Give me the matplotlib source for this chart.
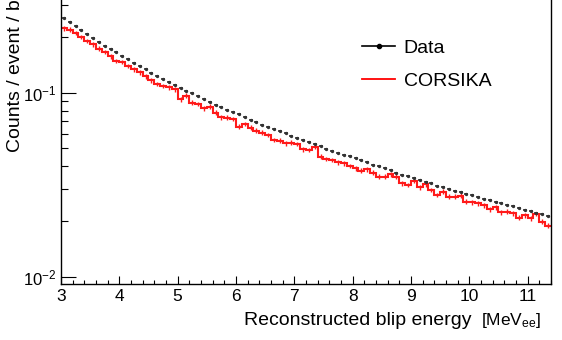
import numpy as np
import matplotlib
matplotlib.use("Agg")
import matplotlib.pyplot as plt
from matplotlib.lines import Line2D
from matplotlib.ticker import LogLocator, MultipleLocator, NullFormatter

plt.rcParams['font.family'] = ['Liberation Sans', 'DejaVu Sans']
plt.rcParams['mathtext.fontset'] = 'custom'
plt.rcParams['mathtext.rm'] = 'Liberation Sans'
plt.rcParams['mathtext.it'] = 'Liberation Sans:italic'
plt.rcParams['mathtext.bf'] = 'Liberation Sans:bold'

# 0.1 MeV bins from 3.0 to 11.4
edges = np.linspace(3.0, 11.4, 85)
centers = 0.5 * (edges[:-1] + edges[1:])

data = [0.2537, 0.2431, 0.2312, 0.2191, 0.2084, 0.1983, 0.1893, 0.1800, 0.1727, 0.1658,
        0.1589, 0.1519, 0.1455, 0.1397, 0.1340, 0.1284, 0.1232,
        0.1187, 0.1143, 0.1105, 0.1056, 0.1018, 0.0997, 0.0963, 0.0924, 0.0893,
        0.0860, 0.0833, 0.0808, 0.0782, 0.0763, 0.0738, 0.0714, 0.0690,
        0.0671, 0.0652, 0.0635, 0.0617, 0.0601, 0.0584, 0.0569, 0.0554, 0.0538,
        0.0524, 0.0511, 0.0497, 0.0485, 0.0473, 0.0461,
        0.0451, 0.0441, 0.0431, 0.0421, 0.0407, 0.0398, 0.0389, 0.0380, 0.0367,
        0.0359, 0.0351, 0.0343, 0.0335, 0.0328, 0.0321, 0.0313, 0.0306,
        0.0300, 0.0294, 0.0288, 0.0283, 0.0277, 0.0271, 0.0266, 0.0261, 0.0256,
        0.0251, 0.0246, 0.0241, 0.0236, 0.0231, 0.0227, 0.0222, 0.0218, 0.0215]

corsika = [0.2239, 0.2200, 0.2111, 0.2008, 0.1910, 0.1828, 0.1738, 0.1664, 0.1573, 0.1487,
           0.1468, 0.1397, 0.1337, 0.1288, 0.1225, 0.1165, 0.1115, 0.1087, 0.1070, 0.1043,
           0.0921, 0.0963, 0.0882, 0.0868, 0.0823, 0.0839, 0.0778, 0.0735, 0.0731, 0.0720,
           0.0653, 0.0676, 0.0645, 0.0621, 0.0606, 0.0589, 0.0553, 0.0548, 0.0531, 0.0535,
           0.0526, 0.0493, 0.0488, 0.0509, 0.0449, 0.0436, 0.0431, 0.0418, 0.0413, 0.0400,
           0.0388, 0.0377, 0.0384, 0.0367, 0.0350, 0.0350, 0.0361, 0.0350, 0.0322, 0.0315,
           0.0331, 0.0306, 0.0318, 0.0296, 0.0278, 0.0290, 0.0272, 0.0272, 0.0275, 0.0256,
           0.0254, 0.0251, 0.0245, 0.0232, 0.0238, 0.0224, 0.0226, 0.0221, 0.0209, 0.0216,
           0.0208, 0.0219, 0.0199, 0.0189]

data_relerr = 0.012   # stat. error estimate
mc_relerr = 0.03

data = np.array(data)
corsika = np.array(corsika)

fig = plt.figure(figsize=(5.62, 3.4), dpi=100)
# frame top is cut off in the original
ax = fig.add_axes([0.1085, 0.1647, 0.8719, 0.9235])

ax.stairs(corsika, edges, baseline=None, color='#ff1a1a', lw=1.5)
ax.errorbar(centers, corsika, yerr=corsika * mc_relerr, fmt='none', ecolor='#ff1a1a', elinewidth=1.0)
ax.errorbar(centers, data, xerr=0.035, yerr=data * data_relerr, fmt='o', ms=1.4,
            color='#333333', elinewidth=1.2, capsize=0)

ax.set_yscale('log')
ax.set_xlim(3.0, 11.4)
ax.set_ylim(0.009124, 0.4643)

ax.xaxis.set_major_locator(MultipleLocator(1))
ax.xaxis.set_minor_locator(MultipleLocator(0.2))
ax.yaxis.set_major_locator(LogLocator(base=10))
ax.yaxis.set_minor_locator(LogLocator(base=10, subs=np.arange(2, 10)))
ax.yaxis.set_minor_formatter(NullFormatter())

ax.tick_params(axis='x', which='major', direction='in', length=5.8, width=0.8, labelsize=12.5, pad=3.5)
ax.tick_params(axis='x', which='minor', direction='in', length=2.9, width=0.8)
ax.tick_params(axis='y', which='major', direction='in', length=10.6, width=0.8, labelsize=12, pad=3)
ax.tick_params(axis='y', which='minor', direction='in', length=5, width=0.8)
for s in ax.spines.values():
    s.set_linewidth(1.0)

fig.text(472 / 562, 1 - 325 / 340, 'Reconstructed blip energy', fontsize=14, ha='right', va='baseline')
fig.text(481 / 562, 1 - 325 / 340, r'[MeV$_{\rm ee}$]', fontsize=12.5, ha='left', va='baseline')
fig.text(16 / 562, 1 - 152 / 340, 'Counts / event / bin', fontsize=14, rotation=90,
         ha='center', va='bottom')

handles = [Line2D([], [], color='black', marker='o', ms=3, lw=1.2),
           Line2D([], [], color='red', lw=1.3)]
ax.legend(handles, ['Data', 'CORSIKA'], loc='upper left', bbox_to_anchor=(362 / 562, 1 - 39 / 340),
          bbox_transform=fig.transFigure, frameon=False, fontsize=14, borderpad=0,
          borderaxespad=0, handlelength=1.7, handletextpad=0.45, labelspacing=0.8)

fig.savefig('out.png', dpi=100)
